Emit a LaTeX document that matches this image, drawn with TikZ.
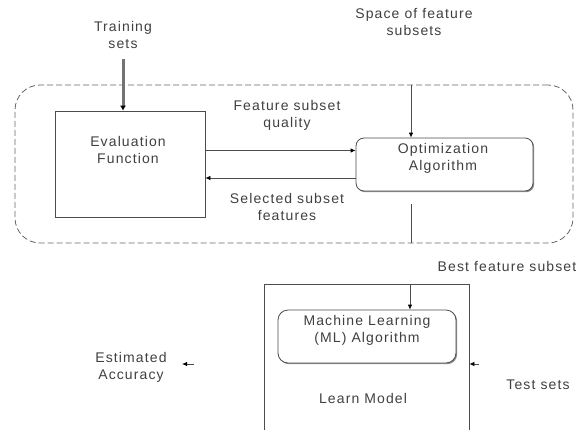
\documentclass[tikz,border=0pt]{standalone}
\usepackage{fontspec}
\setmainfont[LetterSpace=8]{Liberation Sans}
\usetikzlibrary{arrows.meta,shadows}
\begin{document}
\begin{tikzpicture}[x=1pt,y=-1pt,
  txt/.style={font=\fontsize{14}{17}\selectfont, text=black!75, align=center, inner sep=0pt},
  shbox/.style={draw=black!70, line width=0.8pt, fill=white, inner sep=0pt,
    drop shadow={shadow xshift=1.2pt, shadow yshift=-1.2pt, fill=black!45, opacity=1}},
  plainbox/.style={draw=black!70, line width=0.8pt, inner sep=0pt},
  dashbox/.style={draw=black!60, line width=0.8pt, dash pattern=on 6pt off 3pt, rounded corners=25pt, inner sep=0pt},
  arr/.style={draw=black!70, line width=0.8pt, -{Latex[length=5pt,width=4.5pt,black]}},
  thinline/.style={draw=black!70, line width=0.8pt},
  thickarr/.style={draw=black!55, line width=3pt, -{Latex[length=5pt,width=6pt,black]}}
]
\useasboundingbox (0,0) rectangle (578,429);
\clip (0,0) rectangle (578,429);

% texts on top
\node[txt] (train) at (123,35) {Training\\sets};
\node[txt] (space) at (414,22) {Space of feature\\subsets};

% dashed frame
\node[dashbox, minimum width=558pt, minimum height=158pt] (fs) at (294,164) {};

% evaluation box
\node[shbox, minimum width=150pt, minimum height=106pt] (eval) at (130,164) {};
\node[txt] (evaltxt) at (128,150) {Evaluation\\Function};

% optimization box
\node[shbox, rounded corners=8pt, minimum width=177pt, minimum height=53pt] (opt) at (444.5,164.5) {};
\node[txt] (opttxt) at (443,158.5) {Optimization\\Algorithm};

% arrows between them
\draw[arr] ([yshift=13.5pt]eval.east) -- ([yshift=13.5pt]eval.east -| opt.west);
\draw[arr] ([yshift=-13.5pt]opt.west) -- ([yshift=-13.5pt]opt.west -| eval.east);
\node[txt] (qual) at (287,115) {Feature subset\\quality};
\node[txt] (sel) at (287,207) {Selected subset\\features};

% training arrow
\coordinate (trs) at (123,59);
\draw[thickarr] (trs) -- (trs |- eval.north);

% space arrow
\coordinate (sx) at (411,0);
\draw[arr] (sx |- fs.north) -- (sx |- opt.north);
\coordinate (ob) at (411,204);
\draw[thinline] (ob) -- (ob |- fs.south);

% learn model box
\node[plainbox, minimum width=205pt, minimum height=160pt] (learn) at (366.5,364) {};
\node[txt] (lm) at (363,398) {Learn Model};

% ML box
\node[shbox, rounded corners=10pt, minimum width=178pt, minimum height=53pt] (ml) at (367,336.5) {};
\node[txt] (mltxt) at (367,330.5) {Machine Learning\\(ML) Algorithm};

\node[txt, fill=white, inner sep=1pt] (best) at (507,266) {Best feature subset};
\coordinate (mx) at (410,0);
\draw[arr] (mx |- learn.north) -- (mx |- ml.north);

% estimated accuracy
\node[txt] (acc) at (131,367) {Estimated\\Accuracy};
\coordinate (ea1) at (194,364);
\coordinate (ea2) at (182,364);
\draw[arr] (ea1) -- (ea2);

% test sets
\node[txt] (test) at (538,385) {Test sets};
\coordinate (ts) at (479,364);
\draw[arr] (ts) -- (learn.east);
\end{tikzpicture}
\end{document}
